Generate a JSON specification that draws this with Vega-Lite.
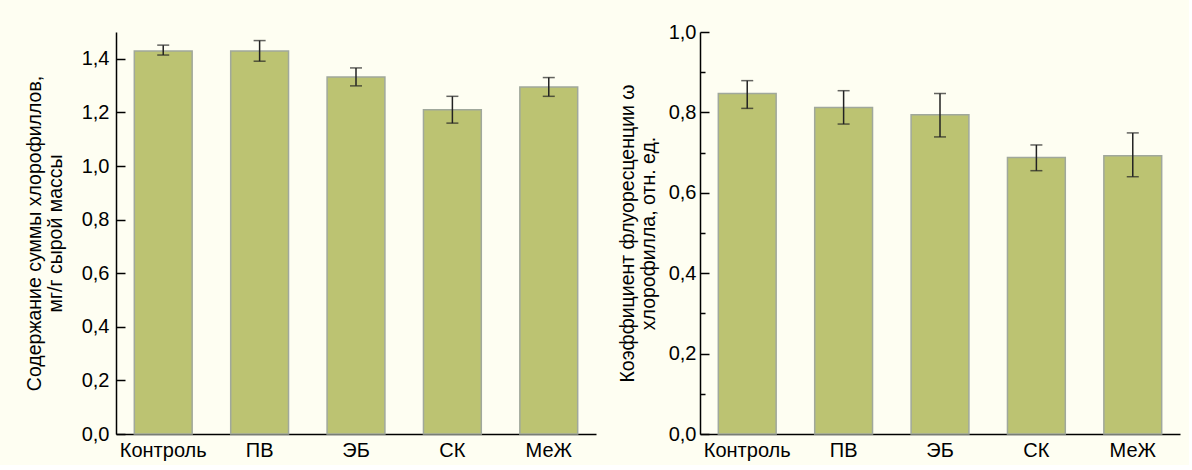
{
  "$schema": "https://vega.github.io/schema/vega-lite/v6.json",
  "background": "#fefef2",
  "padding": {"left": 24, "top": 22, "right": 9, "bottom": 5},
  "spacing": 21,
  "config": {
    "view": {"stroke": null},
    "font": "Liberation Sans",
    "axis": {
      "labelFont": "Liberation Sans",
      "titleFont": "Liberation Sans",
      "labelColor": "#000",
      "titleColor": "#000",
      "domainColor": "#000",
      "tickColor": "#000",
      "domainWidth": 1.5,
      "tickWidth": 1.5,
      "grid": false,
      "labelFontSize": 20,
      "titleFontSize": 19.5,
      "titleFontWeight": "normal",
      "titleLineHeight": 21
    }
  },
  "hconcat": [
    {
      "width": 480,
      "height": 402,
      "data": {"values": [
        {"group": "Контроль", "value": 1.429, "lo": 1.414, "hi": 1.451},
        {"group": "ПВ", "value": 1.429, "lo": 1.391, "hi": 1.468},
        {"group": "ЭБ", "value": 1.332, "lo": 1.299, "hi": 1.366},
        {"group": "СК", "value": 1.21, "lo": 1.16, "hi": 1.26},
        {"group": "МеЖ", "value": 1.295, "lo": 1.26, "hi": 1.33}
      ]},
      "encoding": {
        "x": {"field": "group", "type": "nominal", "sort": null,
          "scale": {"paddingInner": 0.4, "paddingOuter": 0.19},
          "axis": {"title": null, "labelAngle": 0, "ticks": false, "labelPadding": 6}}
      },
      "layer": [
        {
          "mark": {"type": "bar", "fill": "#bcc372", "stroke": "#a0a89c", "strokeWidth": 1.5},
          "encoding": {
            "y": {"field": "value", "type": "quantitative",
              "title": ["Содержание суммы хлорофиллов,", "мг/г сырой массы"],
              "scale": {"domain": [0, 1.5], "nice": false},
              "axis": {
                "values": [0, 0.1, 0.2, 0.3, 0.4, 0.5, 0.6, 0.7, 0.8, 0.9, 1.0, 1.1, 1.2, 1.3, 1.4, 1.5],
                "labelExpr": "round(datum.value*10)%2==0 ? replace(format(datum.value,'.1f'),'.',',') : ''",
                "tickSize": {"condition": {"test": "round(datum.value*10)%2==0", "value": -9}, "value": -5},
                "labelPadding": 16,
                "titlePadding": 16
              }
            }
          }
        },
        {
          "mark": {"type": "errorbar", "ticks": {"size": 12, "thickness": 1.5, "color": "#222"}, "rule": {"strokeWidth": 1.5, "color": "#222"}},
          "encoding": {
            "y": {"field": "lo", "type": "quantitative",
              "title": ["Содержание суммы хлорофиллов,", "мг/г сырой массы"]},
            "y2": {"field": "hi"}
          }
        }
      ]
    },
    {
      "width": 480,
      "height": 402,
      "data": {"values": [
        {"group": "Контроль", "value": 0.847, "lo": 0.81, "hi": 0.879},
        {"group": "ПВ", "value": 0.812, "lo": 0.771, "hi": 0.854},
        {"group": "ЭБ", "value": 0.794, "lo": 0.739, "hi": 0.847},
        {"group": "СК", "value": 0.688, "lo": 0.655, "hi": 0.719},
        {"group": "МеЖ", "value": 0.692, "lo": 0.64, "hi": 0.749}
      ]},
      "encoding": {
        "x": {"field": "group", "type": "nominal", "sort": null,
          "scale": {"paddingInner": 0.4, "paddingOuter": 0.19},
          "axis": {"title": null, "labelAngle": 0, "ticks": false, "labelPadding": 6}}
      },
      "layer": [
        {
          "mark": {"type": "bar", "fill": "#bcc372", "stroke": "#a0a89c", "strokeWidth": 1.5},
          "encoding": {
            "y": {"field": "value", "type": "quantitative",
              "title": ["Коэффициент флуоресценции ω", "хлорофилла, отн. ед."],
              "scale": {"domain": [0, 1.0], "nice": false},
              "axis": {
                "values": [0, 0.1, 0.2, 0.3, 0.4, 0.5, 0.6, 0.7, 0.8, 0.9, 1.0],
                "labelExpr": "round(datum.value*10)%2==0 ? replace(format(datum.value,'.1f'),'.',',') : ''",
                "tickSize": {"condition": {"test": "round(datum.value*10)%2==0", "value": -9}, "value": -5},
                "labelPadding": 13,
                "titlePadding": 10
              }
            }
          }
        },
        {
          "mark": {"type": "errorbar", "ticks": {"size": 12, "thickness": 1.5, "color": "#222"}, "rule": {"strokeWidth": 1.5, "color": "#222"}},
          "encoding": {
            "y": {"field": "lo", "type": "quantitative",
              "title": ["Коэффициент флуоресценции ω", "хлорофилла, отн. ед."]},
            "y2": {"field": "hi"}
          }
        }
      ]
    }
  ]
}
